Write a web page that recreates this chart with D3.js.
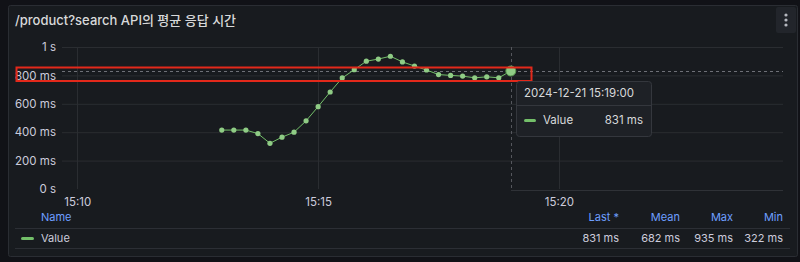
<!DOCTYPE html>
<html>
<head>
<meta charset="utf-8">
<script src="https://cdn.jsdelivr.net/npm/d3@7"></script>
<style>
  html, body { margin: 0; padding: 0; background: #111217; }
  svg { display: block; font-family: Inter, "Noto Sans CJK KR", sans-serif; }
</style>
</head>
<body>
<script>
  // data: 15s samples, 15:13:00 - 15:19:00
  var startTime = "2024-12-21 15:13:00";
  var stepSeconds = 15;
  var responseMs = [415, 415, 415, 390, 322, 365, 400, 480, 580, 683, 782, 840, 900,
                    915, 935, 895, 866, 838, 806, 800, 795, 783, 790, 783, 831];
  var yTicks = [0, 200, 400, 600, 800, 1000];
  var legendCols = ["Last *", "Mean", "Max", "Min"];
  var legendVals = ["831 ms", "682 ms", "935 ms", "322 ms"];
  var title = "/product?search API의 평균 응답 시간";
  var hoverIndex = 24;

  var width = 800, height = 262;
  var parse = d3.timeParse("%Y-%m-%d %H:%M:%S");
  var t0 = parse(startTime);
  var data = responseMs.map(function(v, i) {
    return { t: new Date(t0.getTime() + i * stepSeconds * 1000), v: v };
  });

  var svg = d3.select("body").append("svg")
    .attr("width", width)
    .attr("height", height);

  // panel
  svg.append("rect").attr("x", 8.5).attr("y", 5.5).attr("width", 789).attr("height", 251)
    .attr("rx", 2).attr("fill", "#181b1f").attr("stroke", "#2a2d33");

  svg.append("text").attr("x", 15).attr("y", 25)
    .attr("fill", "#d8d9da").attr("font-size", 13).attr("font-weight", 500)
    .text(title);

  // menu button
  svg.append("rect").attr("x", 776).attr("y", 7).attr("width", 20).attr("height", 26)
    .attr("rx", 2).attr("fill", "#22252b");
  [15, 20, 25].forEach(function(cy) {
    svg.append("circle").attr("cx", 786).attr("cy", cy).attr("r", 1.6).attr("fill", "#b5b8bf");
  });

  var x = d3.scaleTime()
    .domain([parse("2024-12-21 15:09:41"), parse("2024-12-21 15:24:39")])
    .range([62, 783]);
  var y = d3.scaleLinear().domain([0, 1000]).range([189, 47]);

  var fmtY = function(d) { return d === 0 ? "0 s" : d >= 1000 ? (d / 1000) + " s" : d + " ms"; };

  // grid
  var grid = svg.append("g");
  grid.selectAll("line.h").data(yTicks.filter(function(d) { return d > 0; })).enter().append("line")
    .attr("x1", 62).attr("x2", 783)
    .attr("y1", function(d) { return y(d) + 0.5; }).attr("y2", function(d) { return y(d) + 0.5; })
    .attr("stroke", "#2a2d31");
  var xTicks = x.ticks(d3.timeMinute.every(5));
  grid.selectAll("line.v").data(xTicks).enter().append("line")
    .attr("x1", function(d) { return Math.round(x(d)) + 0.5; })
    .attr("x2", function(d) { return Math.round(x(d)) + 0.5; })
    .attr("y1", 47).attr("y2", 189)
    .attr("stroke", "#2a2d31");

  // axes
  var yAxis = svg.append("g").attr("transform", "translate(56,0)")
    .call(d3.axisLeft(y).tickValues(yTicks).tickFormat(fmtY).tickSize(0).tickPadding(0));
  yAxis.select(".domain").remove();
  yAxis.selectAll("text").attr("fill", "#ccccdc").attr("font-size", 11.5).attr("font-family", "Inter");

  var xAxis = svg.append("g").attr("transform", "translate(0,198)")
    .call(d3.axisBottom(x).ticks(d3.timeMinute.every(5)).tickFormat(d3.timeFormat("%H:%M")).tickSize(0).tickPadding(0));
  xAxis.select(".domain").remove();
  xAxis.selectAll("text").attr("fill", "#ccccdc").attr("font-size", 11.5).attr("font-family", "Inter");

  // crosshair
  var hp = data[hoverIndex];
  svg.append("line").attr("x1", 62).attr("x2", 783)
    .attr("y1", Math.round(y(hp.v)) + 0.5).attr("y2", Math.round(y(hp.v)) + 0.5)
    .attr("stroke", "#6e7077").attr("stroke-dasharray", "3,3");
  svg.append("line").attr("x1", Math.round(x(hp.t)) + 0.5).attr("x2", Math.round(x(hp.t)) + 0.5)
    .attr("y1", 47).attr("y2", 190)
    .attr("stroke", "#55575d").attr("stroke-dasharray", "3,3");
  svg.append("line").attr("x1", Math.round(x(hp.t))).attr("x2", 783)
    .attr("y1", 190.5).attr("y2", 190.5).attr("stroke", "#2f3237");

  // series
  var line = d3.line().x(function(d) { return x(d.t); }).y(function(d) { return y(d.v); });
  svg.append("path").datum(data).attr("d", line)
    .attr("fill", "none").attr("stroke", "#73bf69").attr("stroke-width", 1);
  svg.selectAll("circle.pt").data(data).enter().append("circle")
    .attr("cx", function(d) { return x(d.t); }).attr("cy", function(d) { return y(d.v); })
    .attr("r", 2.6).attr("fill", "#8fcc85");
  svg.append("circle").attr("cx", x(hp.t)).attr("cy", y(hp.v)).attr("r", 5)
    .attr("fill", "#8fcc85").attr("stroke", "#5a9a52").attr("stroke-width", 1);

  // red highlight box
  svg.append("rect").attr("x", 16.5).attr("y", 67.5).attr("width", 515).attr("height", 13.5)
    .attr("fill", "none").attr("stroke", "#e3291b").attr("stroke-width", 2);

  // tooltip
  var tip = svg.append("g");
  tip.append("rect").attr("x", 516.5).attr("y", 81.5).attr("width", 135).attr("height", 55)
    .attr("rx", 3).attr("fill", "#1e2126").attr("stroke", "#34373d");
  tip.append("line").attr("x1", 517).attr("x2", 651).attr("y1", 105.5).attr("y2", 105.5).attr("stroke", "#34373d");
  tip.append("text").attr("x", 524).attr("y", 97).attr("fill", "#d8d9da").attr("font-size", 11.5)
    .text(d3.timeFormat("%Y-%m-%d %H:%M:%S")(hp.t));
  tip.append("rect").attr("x", 524).attr("y", 119).attr("width", 12).attr("height", 3).attr("rx", 1.5).attr("fill", "#73bf69");
  tip.append("text").attr("x", 543).attr("y", 124).attr("fill", "#d8d9da").attr("font-size", 11.5).text("Value");
  tip.append("text").attr("x", 643).attr("y", 124).attr("text-anchor", "end").attr("fill", "#d8d9da")
    .attr("font-size", 11.5).text(hp.v + " ms");

  // legend table
  var colRight = [619, 680, 733, 783];
  svg.append("text").attr("x", 41).attr("y", 221).attr("fill", "#6e9fff").attr("font-size", 11).text("Name");
  svg.selectAll("text.lh").data(legendCols).enter().append("text")
    .attr("x", function(d, i) { return colRight[i]; }).attr("y", 221)
    .attr("text-anchor", "end").attr("fill", "#6e9fff").attr("font-size", 11)
    .text(function(d) { return d; });
  svg.append("line").attr("x1", 15).attr("x2", 790).attr("y1", 228.5).attr("y2", 228.5).attr("stroke", "#2c2f35");
  svg.append("line").attr("x1", 15).attr("x2", 790).attr("y1", 248.5).attr("y2", 248.5).attr("stroke", "#2c2f35");
  svg.append("rect").attr("x", 21).attr("y", 237).attr("width", 13).attr("height", 3).attr("rx", 1.5).attr("fill", "#73bf69");
  svg.append("text").attr("x", 41).attr("y", 242).attr("fill", "#ccccdc").attr("font-size", 11).text("Value");
  svg.selectAll("text.lv").data(legendVals).enter().append("text")
    .attr("x", function(d, i) { return colRight[i]; }).attr("y", 242)
    .attr("text-anchor", "end").attr("fill", "#ccccdc").attr("font-size", 11)
    .text(function(d) { return d; });
</script>
</body>
</html>
